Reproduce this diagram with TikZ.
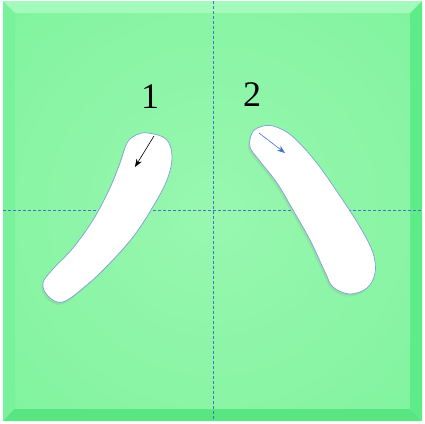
\documentclass[tikz,border=0pt]{standalone}
\usepackage{fontspec}
\setmainfont{Liberation Serif}
\usetikzlibrary{arrows.meta,shadows}
\definecolor{mid}{HTML}{98F7AF}
\definecolor{rim}{HTML}{66EF8C}
\definecolor{bevtop}{HTML}{A4F9BC}
\definecolor{bevleft}{HTML}{7AF29B}
\definecolor{bevright}{HTML}{5DEC88}
\definecolor{bevbot}{HTML}{58E582}
\definecolor{guide}{HTML}{4472C4}
\definecolor{edge}{HTML}{7F9FD8}
\pgfdeclareradialshading{board}{\pgfpoint{0bp}{0bp}}{color(0bp)=(mid); color(25bp)=(mid!70!rim); color(72bp)=(rim)}

\begin{document}
\begin{tikzpicture}[
  x=1pt,y=-1pt,
  every node/.style={font=\fontsize{36}{40}\selectfont},
  guideline/.style={dashed,draw=guide,line width=0.6pt,dash pattern=on 3pt off 2pt},
  stroke/.style={fill=white,draw=edge,line width=0.7pt,
    drop shadow={shadow xshift=-1.5pt,shadow yshift=-2.5pt,opacity=0.15,fill=black!50}},
  dir/.style={-{Stealth[length=8pt,width=6pt]},line width=0.6pt}
]
\useasboundingbox (0,0) rectangle (425,423);
% bevelled board
\fill[bevtop] (3,1) -- (422,1) -- (410,13) -- (15,13) -- cycle;
\fill[bevleft] (3,1) -- (15,13) -- (15,408) -- (3,421) -- cycle;
\fill[bevright] (422,1) -- (422,421) -- (410,408) -- (410,13) -- cycle;
\fill[bevbot] (3,421) -- (15,408) -- (410,408) -- (422,421) -- cycle;
\shade[shading=board] (15,13) rectangle (410,408);
% guides
\draw[guideline] (213,1) -- (213,421);
\draw[guideline] (3,210) -- (422,210);
% stroke 1
\draw[stroke] plot[smooth cycle,tension=0.6] coordinates {
  (148,133) (166,139) (172,156) (167,180) (151,210) (133,237) (110,263)
  (88,284) (63,302) (48,296) (43,283) (53,269) (73,248) (93,220)
  (109,190) (120,163) (127,143) (136,135)};
% stroke 2
\draw[stroke] plot[smooth cycle,tension=0.6] coordinates {
  (273,126) (292,136) (316,162) (340,196) (360,227) (373,253) (375,273)
  (367,288) (350,294) (333,287) (325,272) (310,240) (293,210) (277,183)
  (259,160) (250,147) (252,133) (260,127)};
% directions
\coordinate (s1) at (154,136);
\coordinate (e1) at (135,167);
\coordinate (s2) at (259,133);
\coordinate (e2) at (285,153);
\draw[dir,black] (s1) -- (e1);
\draw[dir,guide] (s2) -- (e2);
% labels
\node (one) at (150,97) {1};
\node (two) at (252,95) {2};
\end{tikzpicture}
\end{document}
